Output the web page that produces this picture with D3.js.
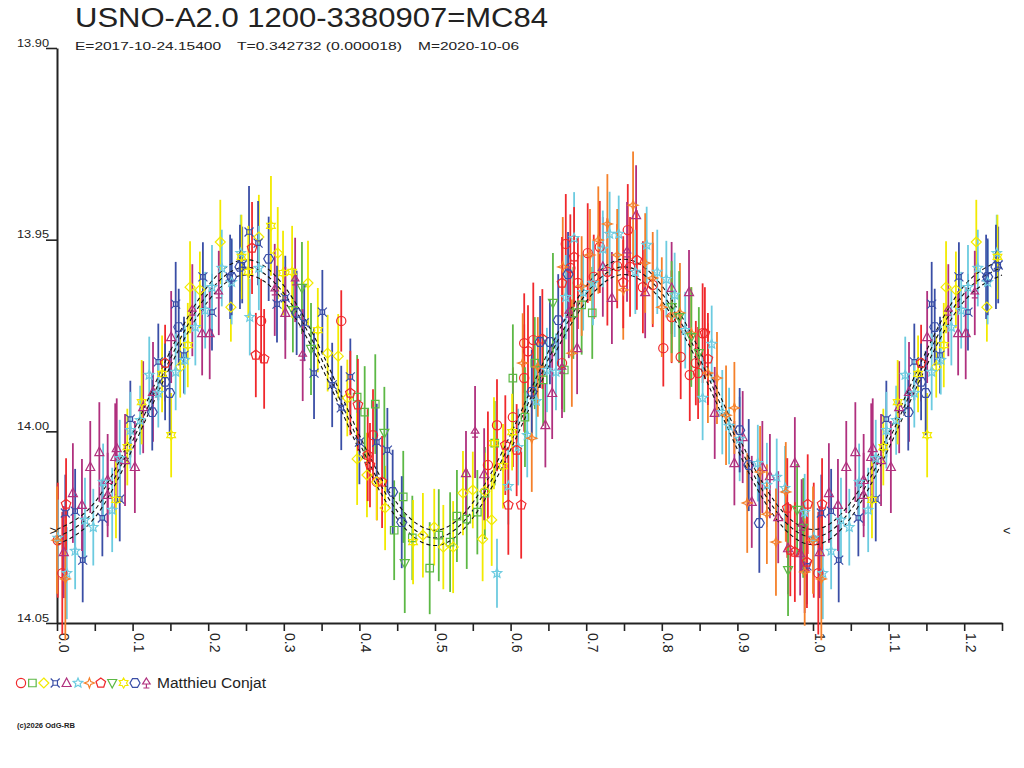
<!DOCTYPE html>
<html>
<head>
<meta charset="utf-8">
<script src="https://cdn.jsdelivr.net/npm/d3@7"></script>
<style>
  body { margin: 0; background: #fff; }
  svg { display: block; font-family: "Liberation Sans", Arial, sans-serif; }
</style>
</head>
<body>
<svg id="chart" width="1024" height="768"></svg>
<script>
const redCircles = [[0.001,14.0284,0.015],[0.007,14.0370,0.016],[0.270,13.9712,0.011],[0.376,13.9712,0.008],[0.418,14.0010,0.012],[0.423,14.0132,0.010],[0.570,14.0088,0.014],[0.582,13.9984,0.012],[0.603,13.9963,0.013],[0.618,13.9861,0.014],[0.618,13.9770,0.013],[0.623,13.9791,0.012],[0.630,13.9762,0.015],[0.668,13.9822,0.012],[0.673,13.9511,0.013],[0.679,13.9574,0.014],[0.689,13.9613,0.012],[0.702,13.9535,0.013],[0.710,13.9597,0.011],[0.718,13.9519,0.012],[0.728,13.9584,0.014],[0.741,13.9569,0.011],[0.755,13.9475,0.012],[0.758,13.9571,0.013],[0.775,13.9624,0.012],[0.788,13.9618,0.011],[0.802,13.9783,0.010],[0.813,13.9702,0.012],[0.825,13.9806,0.011],[0.837,13.9853,0.012],[0.845,13.9822,0.011],[0.854,13.9744,0.013],[0.848,13.9848,0.012]];
const greenSquares = [[0.397,13.9911,0.011],[0.407,13.9950,0.012],[0.421,13.9929,0.013],[0.446,14.0258,0.013],[0.458,14.0171,0.012],[0.470,14.0278,0.011],[0.493,14.0357,0.012],[0.505,14.0271,0.012],[0.520,14.0289,0.013],[0.529,14.0221,0.012],[0.542,14.0229,0.013],[0.556,14.0211,0.011],[0.566,14.0161,0.012],[0.579,14.0031,0.011],[0.603,13.9861,0.014],[0.619,13.9963,0.013],[0.632,13.9822,0.012],[0.643,13.9866,0.012],[0.671,13.9840,0.011],[0.683,13.9691,0.012],[0.694,13.9670,0.013],[0.708,13.9691,0.012]];
const yellowDiamonds = [[0.163,13.9832,0.008],[0.176,13.9624,0.012],[0.189,13.9631,0.010],[0.216,13.9506,0.011],[0.230,13.9676,0.009],[0.267,13.9493,0.011],[0.292,13.9535,0.012],[0.332,13.9613,0.011],[0.358,13.9796,0.010],[0.372,13.9804,0.011],[0.384,13.9913,0.010],[0.397,14.0072,0.012],[0.410,14.0114,0.011],[0.423,14.0132,0.010],[0.434,14.0200,0.011],[0.484,14.0271,0.011],[0.499,14.0250,0.010],[0.511,14.0302,0.011],[0.524,14.0302,0.012],[0.537,14.0161,0.011],[0.550,14.0153,0.010],[0.563,14.0281,0.011],[0.566,14.0156,0.010],[0.575,14.0231,0.012]];
const blueCrosses = [[0.011,14.0213,0.010],[0.024,14.0208,0.011],[0.034,14.0336,0.011],[0.060,14.0226,0.010],[0.083,14.0177,0.011],[0.097,13.9968,0.010],[0.134,13.9819,0.010],[0.157,13.9668,0.011],[0.168,13.9801,0.010],[0.193,13.9597,0.009],[0.205,13.9689,0.010],[0.229,13.9597,0.011],[0.245,13.9566,0.010],[0.254,13.9480,0.012],[0.266,13.9509,0.011],[0.291,13.9668,0.010],[0.302,13.9652,0.011],[0.327,13.9717,0.010],[0.340,13.9848,0.012],[0.351,13.9689,0.011],[0.364,13.9879,0.011],[0.376,13.9939,0.011],[0.388,13.9858,0.010],[0.400,14.0028,0.011],[0.423,14.0028,0.010],[0.437,14.0049,0.011],[0.992,14.0351,0.010]];
const purpleTriangles = [[0.009,14.0315,0.012],[0.021,14.0161,0.013],[0.033,14.0192,0.012],[0.044,14.0093,0.012],[0.056,14.0054,0.013],[0.067,14.0127,0.012],[0.067,14.0166,0.011],[0.077,14.0067,0.014],[0.079,14.0044,0.013],[0.090,14.0075,0.012],[0.103,14.0093,0.012],[0.114,13.9937,0.012],[0.127,13.9897,0.013],[0.151,13.9754,0.012],[0.192,13.9744,0.011],[0.202,13.9744,0.012],[0.302,13.9691,0.012],[0.541,14.0109,0.011],[0.565,14.0112,0.012],[0.646,13.9984,0.011],[0.655,13.9900,0.012],[0.688,13.9783,0.012],[0.722,13.9571,0.013],[0.734,13.9652,0.012],[0.766,13.9436,0.013],[0.778,13.9637,0.012],[0.813,13.9626,0.012],[0.836,13.9637,0.011],[0.870,13.9952,0.012],[0.896,14.0083,0.011],[0.907,14.0015,0.012],[0.919,14.0184,0.012],[0.933,14.0093,0.012],[0.943,14.0117,0.011],[0.954,14.0224,0.012],[0.967,14.0305,0.012],[0.976,14.0083,0.012],[0.983,14.0318,0.011],[0.989,14.0354,0.012]];
const cyanStars = [[0.001,14.0278,0.010],[0.013,14.0370,0.012],[0.024,14.0312,0.010],[0.037,14.0231,0.011],[0.048,14.0250,0.010],[0.061,14.0132,0.010],[0.073,14.0205,0.011],[0.083,14.0070,0.010],[0.097,13.9997,0.010],[0.110,13.9971,0.009],[0.122,13.9853,0.010],[0.134,13.9900,0.009],[0.157,13.9845,0.010],[0.169,13.9814,0.009],[0.183,13.9728,0.010],[0.196,13.9684,0.010],[0.205,13.9624,0.011],[0.218,13.9574,0.010],[0.231,13.9611,0.011],[0.243,13.9535,0.010],[0.255,13.9702,0.010],[0.267,13.9574,0.011],[0.582,14.0370,0.009],[0.597,14.0143,0.010],[0.610,14.0041,0.010],[0.622,14.0010,0.011],[0.634,13.9921,0.010],[0.648,13.9840,0.011],[0.660,13.9845,0.010],[0.673,13.9650,0.011],[0.684,13.9496,0.012],[0.696,13.9637,0.010],[0.709,13.9613,0.011],[0.722,13.9524,0.010],[0.731,13.9485,0.011],[0.743,13.9485,0.010],[0.765,13.9584,0.011],[0.780,13.9514,0.010],[0.794,13.9584,0.011],[0.806,13.9603,0.010],[0.817,13.9644,0.011],[0.831,13.9736,0.010],[0.854,13.9913,0.011],[0.866,13.9772,0.010],[0.880,13.9950,0.011],[0.889,13.9986,0.010],[0.903,14.0020,0.011],[0.927,14.0083,0.010],[0.939,14.0140,0.011],[0.952,14.0119,0.010],[0.963,14.0148,0.011],[0.989,14.0211,0.010]];
const orangeStars = [[0.000,14.0284,0.014],[0.011,14.0385,0.016],[0.616,13.9822,0.013],[0.628,14.0018,0.014],[0.636,13.9832,0.013],[0.669,13.9571,0.013],[0.681,13.9796,0.014],[0.694,13.9621,0.013],[0.705,13.9540,0.012],[0.716,13.9501,0.014],[0.728,13.9459,0.013],[0.741,13.9540,0.012],[0.749,13.9631,0.013],[0.762,13.9410,0.014],[0.778,13.9561,0.013],[0.788,13.9600,0.012],[0.800,13.9676,0.013],[0.813,13.9699,0.012],[0.824,13.9691,0.013],[0.839,13.9744,0.012],[0.861,13.9848,0.013],[0.873,13.9861,0.012],[0.885,13.9958,0.013],[0.896,13.9939,0.012],[0.913,14.0187,0.013],[0.930,14.0106,0.012],[0.939,14.0216,0.013],[0.951,14.0289,0.014],[0.964,14.0158,0.013],[0.989,14.0367,0.014]];
const redPentagons = [[0.012,14.0190,0.012],[0.143,13.9822,0.010],[0.258,13.9522,0.012],[0.263,13.9801,0.011],[0.274,13.9811,0.013],[0.388,13.9900,0.011],[0.398,13.9931,0.012],[0.411,14.0062,0.012],[0.414,14.0088,0.011],[0.430,14.0132,0.012],[0.593,14.0036,0.013],[0.597,14.0192,0.013],[0.608,14.0049,0.012],[0.614,14.0192,0.014],[0.642,13.9759,0.013],[0.668,13.9613,0.012],[0.684,13.9545,0.013],[0.749,13.9611,0.012],[0.767,13.9553,0.013],[0.857,13.9744,0.012],[0.861,13.9811,0.012],[0.966,14.0200,0.013],[0.970,14.0310,0.012],[0.976,14.0315,0.013],[0.992,14.0341,0.012],[0.993,14.0190,0.013]];
const greenTriangles = [[0.312,13.9684,0.011],[0.324,13.9626,0.012],[0.336,13.9785,0.012],[0.433,14.0004,0.012],[0.460,14.0344,0.013],[0.656,13.9665,0.013],[0.813,13.9676,0.012],[0.823,13.9702,0.012],[0.839,13.9754,0.013],[0.849,13.9796,0.012],[0.967,14.0362,0.012],[0.979,14.0205,0.012],[0.987,14.0252,0.013]];
const yellowStars = [[0.078,14.0179,0.010],[0.093,14.0041,0.010],[0.112,13.9924,0.011],[0.139,13.9850,0.010],[0.151,14.0010,0.011],[0.173,13.9775,0.011],[0.244,13.9545,0.011],[0.253,13.9584,0.012],[0.283,13.9464,0.013],[0.299,13.9587,0.011],[0.311,13.9584,0.012],[0.345,13.9736,0.011],[0.471,14.0289,0.011],[0.578,14.0031,0.012],[0.590,14.0091,0.011],[0.602,14.0002,0.010]];
const blueHexagons = [[0.126,13.9950,0.010],[0.143,13.9871,0.010],[0.149,13.9900,0.011],[0.161,13.9728,0.010],[0.231,13.9597,0.010],[0.242,13.9571,0.011],[0.280,13.9550,0.011],[0.317,13.9691,0.011],[0.444,14.0158,0.011],[0.456,14.0237,0.012],[0.628,13.9897,0.011],[0.639,13.9767,0.012],[0.652,13.9767,0.011],[0.663,13.9710,0.012],[0.676,13.9590,0.011],[0.903,13.9997,0.011],[0.915,14.0088,0.012],[0.929,14.0239,0.013]];
const purpleTripods = [[0.179,13.9684,0.012],[0.214,13.9639,0.011],[0.288,13.9631,0.012],[0.315,13.9605,0.011],[0.325,13.9801,0.012],[0.553,14.0002,0.012],[0.668,13.9835,0.013],[0.677,13.9689,0.012],[0.754,13.9532,0.013],[0.985,14.0245,0.012]];

// fitted light curve
const fitPhase = [0,0.05,0.1,0.15,0.2,0.25,0.3,0.35,0.4,0.45,0.5,0.55,0.6,0.65,0.7,0.75,0.8,0.85,0.9,0.95,1,1.05,1.1,1.15,1.2,1.25];
const fitMag = [14.0276,14.0205,14.0025,13.9810,13.9640,13.9572,13.9640,13.9812,14.0030,14.0208,14.0278,14.0206,14.0028,13.9812,13.9641,13.9571,13.9640,13.9810,14.0027,14.0205,14.0276,14.0205,14.0025,13.9810,13.9640,13.9572];
const fitSigma = 0.002;
const markLevel = 14.026;

const xTicks = [0,0.05,0.1,0.15,0.2,0.25,0.3,0.35,0.4,0.45,0.5,0.55,0.6,0.65,0.7,0.75,0.8,0.85,0.9,0.95,1,1.05,1.1,1.15,1.2,1.25];
const yTicks = [13.90, 13.95, 14.00, 14.05];

const titleText = 'USNO-A2.0 1200-3380907=MC84';
const subTexts = ['E=2017-10-24.15400', 'T=0.342732 (0.000018)', 'M=2020-10-06'];
const observer = 'Matthieu Conjat';

// marker shapes
const R = s => Math.sqrt(s) / 2;
function ring(n, inner, rot) {
  return { draw(c, s) {
    const r = R(s), k = inner ? 2 * n : n;
    for (let i = 0; i < k; i++) {
      const a = rot + i * 2 * Math.PI / k - Math.PI / 2;
      const rr = inner && i % 2 ? r * inner : r;
      i ? c.lineTo(rr * Math.cos(a), rr * Math.sin(a)) : c.moveTo(rr * Math.cos(a), rr * Math.sin(a));
    }
    c.closePath();
  }};
}
const shapes = {
  circle: { draw(c, s) { const r = R(s) * 0.92; c.moveTo(r, 0); c.arc(0, 0, r, 0, 2 * Math.PI); } },
  square: { draw(c, s) { const r = R(s) * 0.75; c.rect(-r, -r, 2 * r, 2 * r); } },
  diamond: ring(4, 0, 0),
  currency: { draw(c, s) {
    const r = R(s), q = r * 0.45;
    c.rect(-q, -q, 2 * q, 2 * q);
    [[-1,-1],[1,-1],[1,1],[-1,1]].forEach(([a, b]) => { c.moveTo(a * q, b * q); c.lineTo(a * r * 0.9, b * r * 0.9); });
  }},
  triangle: { draw(c, s) { const r = R(s); c.moveTo(0, -r); c.lineTo(r * 0.9, r * 0.7); c.lineTo(-r * 0.9, r * 0.7); c.closePath(); } },
  star: ring(5, 0.45, 0),
  star4: ring(4, 0.38, 0),
  pentagon: ring(5, 0, 0),
  triangleDown: { draw(c, s) { const r = R(s); c.moveTo(0, r); c.lineTo(r * 0.9, -r * 0.7); c.lineTo(-r * 0.9, -r * 0.7); c.closePath(); } },
  star6: ring(6, 0.58, 0),
  hexagon: ring(6, 0, Math.PI / 6),
  tripod: { draw(c, s) {
    const r = R(s);
    c.moveTo(0, -r); c.lineTo(r * 0.75, r * 0.2); c.lineTo(-r * 0.75, r * 0.2); c.closePath();
    c.moveTo(0, r * 0.2); c.lineTo(0, r);
    c.moveTo(-r * 0.6, r); c.lineTo(r * 0.6, r);
  }}
};

const red = '#f0282c', green = '#5cb845', yellow = '#f2ea00', blue = '#3a4ea6',
      purple = '#b0307e', cyan = '#6ccbe0', orange = '#f5802a';

const series = [
  { points: redCircles, color: red, shape: shapes.circle },
  { points: greenSquares, color: green, shape: shapes.square },
  { points: yellowDiamonds, color: yellow, shape: shapes.diamond },
  { points: blueCrosses, color: blue, shape: shapes.currency },
  { points: purpleTriangles, color: purple, shape: shapes.triangle },
  { points: cyanStars, color: cyan, shape: shapes.star },
  { points: orangeStars, color: orange, shape: shapes.star4 },
  { points: redPentagons, color: red, shape: shapes.pentagon },
  { points: greenTriangles, color: green, shape: shapes.triangleDown },
  { points: yellowStars, color: yellow, shape: shapes.star6 },
  { points: blueHexagons, color: blue, shape: shapes.hexagon },
  { points: purpleTripods, color: purple, shape: shapes.tripod }
];

const svg = d3.select('#chart');
svg.append('rect').attr('width', 1024).attr('height', 768).attr('fill', '#fff');

const x = d3.scaleLinear().domain([0, 1.25]).range([57, 1002]);
const y = d3.scaleLinear().domain([13.90, 14.05]).range([48, 623]);

// axes
const yAxis = svg.append('g')
  .attr('transform', 'translate(57,0)')
  .call(d3.axisLeft(y).tickValues(yTicks).tickSize(11).tickSizeOuter(0).tickFormat(d3.format('.2f')));
yAxis.selectAll('text').attr('x', -8).attr('dy', -2).style('font-size', '11.5px').attr('fill', '#222')
  .attr('textLength', 32).attr('lengthAdjust', 'spacingAndGlyphs');

const xAxis = svg.append('g')
  .attr('transform', 'translate(0,623)')
  .call(d3.axisBottom(x).tickValues(xTicks).tickSize(8).tickSizeOuter(0)
    .tickFormat(d => Math.round(d * 100) % 10 === 0 ? d3.format('.1f')(d) : ''));
xAxis.selectAll('text')
  .attr('transform', 'rotate(90)').attr('x', 10).attr('y', -1).attr('dy', 0)
  .attr('text-anchor', 'start').style('font-size', '14px').attr('fill', '#222');

svg.selectAll('.domain').attr('stroke', '#222').attr('stroke-width', 2);
svg.selectAll('.tick line').attr('stroke', '#222').attr('stroke-width', 1.6);

// points with phase <= 0.25 are repeated one cycle later
const plotted = series.map(s => ({
  ...s,
  pts: s.points.flatMap(p => p[0] <= 0.25 ? [p, [p[0] + 1, p[1], p[2]]] : [p])
}));

const bars = svg.append('g');
plotted.forEach(s => {
  bars.append('g').selectAll('line').data(s.pts).join('line')
    .attr('x1', d => x(d[0])).attr('x2', d => x(d[0]))
    .attr('y1', d => y(d[1] - d[2])).attr('y2', d => y(d[1] + d[2]))
    .attr('stroke', s.color).attr('stroke-width', 1.8);
});

// fitted curve and its uncertainty band
const fit = fitPhase.map((p, i) => [p, fitMag[i]]);
const line = d3.line().x(d => x(d[0])).y(d => y(d[1])).curve(d3.curveNatural);
[-fitSigma, 0, fitSigma].forEach(off => {
  svg.append('path')
    .attr('d', line(fit.map(d => [d[0], d[1] + off])))
    .attr('fill', 'none').attr('stroke', '#111').attr('stroke-width', 1.1)
    .attr('stroke-dasharray', '4,3');
});

const marks = svg.append('g');
plotted.forEach(s => {
  marks.append('g').selectAll('path').data(s.pts).join('path')
    .attr('transform', d => `translate(${x(d[0])},${y(d[1])})`)
    .attr('d', d3.symbol().type(s.shape).size(100))
    .attr('fill', 'none').attr('stroke', s.color).attr('stroke-width', 1.2);
});

// side markers
svg.append('text').attr('x', 57).attr('y', y(markLevel) + 4).attr('text-anchor', 'end')
  .style('font-size', '13px').attr('fill', '#222').text('>');
svg.append('text').attr('x', 1003).attr('y', y(markLevel) + 4)
  .style('font-size', '13px').attr('fill', '#222').text('<');

// titles
svg.append('text').attr('x', 75).attr('y', 27).style('font-size', '27px').attr('fill', '#222')
  .attr('textLength', 473).attr('lengthAdjust', 'spacingAndGlyphs').text(titleText);
const subX = [75, 237, 418], subLen = [146, 165, 101];
subTexts.forEach((t, i) => {
  svg.append('text').attr('x', subX[i]).attr('y', 50).style('font-size', '11.5px').attr('fill', '#222')
    .attr('textLength', subLen[i]).attr('lengthAdjust', 'spacingAndGlyphs').text(t);
});

// legend
const legend = svg.append('g').attr('transform', 'translate(21,683)');
series.forEach((s, i) => {
  legend.append('path').attr('transform', `translate(${i * 11.4},0)`)
    .attr('d', d3.symbol().type(s.shape).size(100))
    .attr('fill', 'none').attr('stroke', s.color).attr('stroke-width', 1.2);
});
svg.append('text').attr('x', 157).attr('y', 688).style('font-size', '14px').attr('fill', '#222')
  .attr('textLength', 109).attr('lengthAdjust', 'spacingAndGlyphs').text(observer);

svg.append('text').attr('x', 17).attr('y', 728).style('font-size', '7px').style('font-weight', 'bold')
  .attr('fill', '#222').attr('textLength', 58).attr('lengthAdjust', 'spacingAndGlyphs').text('(c)2026 OdG-RB');
</script>
</body>
</html>
